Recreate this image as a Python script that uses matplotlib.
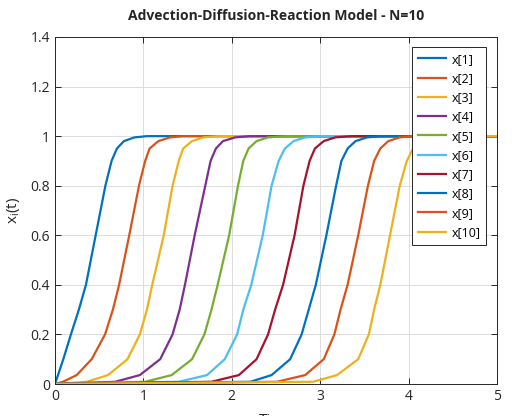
import numpy as np
import matplotlib
matplotlib.use("Agg")
import matplotlib.pyplot as plt

plt.rcParams["font.family"] = ["Open Sans", "Noto Sans", "DejaVu Sans"]

# (time, value) samples
x1_t = [0, 0.094, 0.18, 0.27, 0.35, 0.46, 0.57, 0.64, 0.70, 0.78, 0.90, 1.04, 5]
x1_v = [0, 0.1, 0.2, 0.3, 0.4, 0.6, 0.8, 0.9, 0.95, 0.98, 0.995, 1.0, 1.0]

# the other curves are read at these levels
levels = [0, 0.009, 0.036, 0.1, 0.2, 0.3, 0.4, 0.6, 0.8, 0.9, 0.95, 0.98, 0.995, 1.0, 1.0]
x2_t = [0, 0.09, 0.245, 0.415, 0.566, 0.655, 0.725, 0.84, 0.95, 1.02, 1.07, 1.17, 1.30, 1.45, 5]
x3_t = [0, 0.36, 0.60, 0.82, 0.96, 1.04, 1.10, 1.23, 1.33, 1.40, 1.45, 1.55, 1.68, 1.85, 5]
x4_t = [0, 0.68, 0.96, 1.19, 1.33, 1.41, 1.47, 1.58, 1.70, 1.76, 1.82, 1.90, 2.04, 2.20, 5]
x5_t = [0, 1.02, 1.32, 1.55, 1.69, 1.77, 1.84, 1.97, 2.07, 2.13, 2.19, 2.28, 2.41, 2.60, 5]
x6_t = [0, 1.40, 1.72, 1.92, 2.06, 2.13, 2.22, 2.35, 2.45, 2.53, 2.60, 2.70, 2.83, 3.00, 5]
x7_t = [0, 1.77, 2.08, 2.28, 2.41, 2.49, 2.58, 2.71, 2.81, 2.88, 2.94, 3.04, 3.17, 3.35, 5]
x8_t = [0, 2.21, 2.45, 2.66, 2.79, 2.87, 2.95, 3.07, 3.18, 3.24, 3.31, 3.40, 3.53, 3.70, 5]
x9_t = [0, 2.51, 2.83, 3.04, 3.16, 3.23, 3.31, 3.43, 3.54, 3.61, 3.68, 3.77, 3.90, 4.05, 5]
x10_t = [0, 2.92, 3.19, 3.43, 3.55, 3.61, 3.68, 3.79, 3.90, 3.98, 4.05, 4.14, 4.27, 4.45, 5]

series = [(x1_t, x1_v)] + [(t, levels) for t in
          (x2_t, x3_t, x4_t, x5_t, x6_t, x7_t, x8_t, x9_t, x10_t)]
labels = [f"x[{i}]" for i in range(1, 11)]
colors = ["#0072BD", "#D95319", "#EDB120", "#7E2F8E", "#77AC30",
          "#4DBEEE", "#A2142F", "#0072BD", "#D95319", "#EDB120"]

fig = plt.figure(figsize=(5.12, 4.16), dpi=100)
ax = fig.add_axes([55 / 512, 1 - 384 / 416, 442 / 512, 347 / 416])

for (t, v), lbl, c in zip(series, labels, colors):
    ax.plot(t, v, color=c, lw=1.6, label=lbl, solid_joinstyle="round")

ax.set_xlim(0, 5)
ax.set_ylim(0, 1.4)
ax.set_xticks(range(6))
ax.set_yticks([0, 0.2, 0.4, 0.6, 0.8, 1, 1.2, 1.4])
ax.set_yticklabels(["0", "0.2", "0.4", "0.6", "0.8", "1", "1.2", "1.4"])
ax.grid(color="#dcdcdc", lw=0.7)
ax.set_axisbelow(True)
ax.tick_params(direction="in", top=True, right=True, length=4,
               labelsize=10, colors="#262626", width=0.7)
for sp in ax.spines.values():
    sp.set_color("#262626")
    sp.set_linewidth(0.7)

ax.set_title("Advection-Diffusion-Reaction Model - N=10", fontsize=10,
             fontweight="bold", color="#262626", pad=12)
ax.set_ylabel(r"x$_\mathregular{i}$(t)", fontsize=11, color="#262626", labelpad=6)
# the reference only shows the top edge of this label
ax.set_xlabel("Time", fontsize=11, color="#262626", labelpad=6.5)

leg = ax.legend(loc="upper right", bbox_to_anchor=(431 / 442, 337 / 347),
                borderaxespad=0, fontsize=9, handlelength=2.3,
                handletextpad=0.4, labelspacing=0.5, borderpad=0.45,
                fancybox=False, framealpha=1, edgecolor="#262626")
leg.get_frame().set_linewidth(0.7)

fig.savefig("out.png", dpi=100)
